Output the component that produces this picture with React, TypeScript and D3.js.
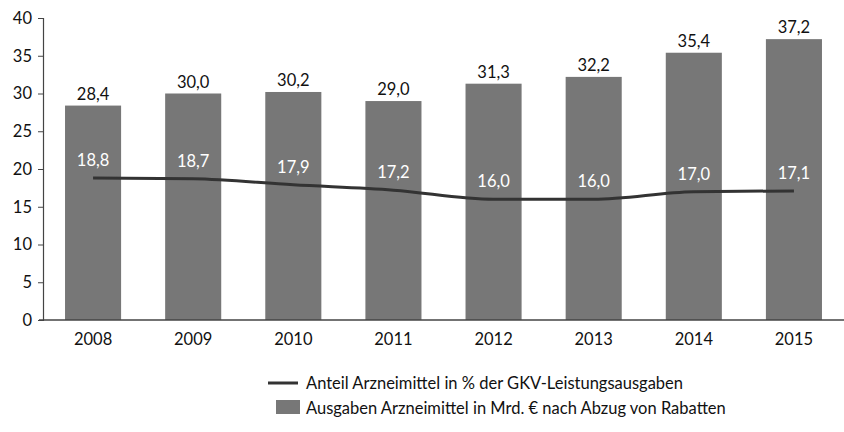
import React from "react";
import * as d3 from "d3";

const years = ["2008", "2009", "2010", "2011", "2012", "2013", "2014", "2015"];
const ausgaben = [28.4, 30.0, 30.2, 29.0, 31.3, 32.2, 35.4, 37.2];
const anteil = [18.8, 18.7, 17.9, 17.2, 16.0, 16.0, 17.0, 17.1];
const yTicks = [0, 5, 10, 15, 20, 25, 30, 35, 40];
const legendLine = "Anteil Arzneimittel in % der GKV-Leistungsausgaben";
const legendBar = "Ausgaben Arzneimittel in Mrd. € nach Abzug von Rabatten";

const fmt = (v: number) => v.toFixed(1).replace(".", ",");

const App = () => {
  const svgRef = React.useRef<SVGSVGElement>(null);
  const width = 844;
  const height = 432;
  const margin = { left: 43, right: 0, top: 18, bottom: 112 };

  React.useEffect(() => {
    const w = width - margin.left - margin.right;
    const h = height - margin.top - margin.bottom;
    const font = "Lato, 'Open Sans', sans-serif";
    const fs = 16.5;

    const x = d3.scaleBand().domain(years).range([0, w]).paddingInner(0.44).paddingOuter(0.22);
    const y = d3.scaleLinear().domain([0, 40]).range([h, 0]);

    const svgEl = d3.select(svgRef.current);
    svgEl.selectAll("*").remove();
    const svg = svgEl.append("g").attr("transform", `translate(${margin.left},${margin.top})`);

    // bars
    svg.selectAll(".bar")
      .data(years)
      .enter().append("rect")
      .attr("x", d => x(d)!)
      .attr("y", (d, i) => y(ausgaben[i]))
      .attr("width", x.bandwidth())
      .attr("height", (d, i) => h - y(ausgaben[i]))
      .attr("fill", "#777777");

    // bar labels
    svg.selectAll(".blabel")
      .data(years)
      .enter().append("text")
      .attr("x", d => x(d)! + x.bandwidth() / 2)
      .attr("y", (d, i) => y(ausgaben[i]) - 6)
      .attr("text-anchor", "middle")
      .attr("font-family", font)
      .attr("font-size", fs)
      .attr("fill", "#111")
      .text((d, i) => fmt(ausgaben[i]));

    // line
    const line = d3.line<number>()
      .x((d, i) => x(years[i])! + x.bandwidth() / 2)
      .y(d => y(d))
      .curve(d3.curveMonotoneX);
    svg.append("path")
      .datum(anteil)
      .attr("d", line)
      .attr("fill", "none")
      .attr("stroke", "#333")
      .attr("stroke-width", 3);

    svg.selectAll(".llabel")
      .data(years)
      .enter().append("text")
      .attr("x", d => x(d)! + x.bandwidth() / 2)
      .attr("y", (d, i) => y(anteil[i]) - 12)
      .attr("text-anchor", "middle")
      .attr("font-family", font)
      .attr("font-size", fs)
      .attr("fill", "#fff")
      .text((d, i) => fmt(anteil[i]));

    // y axis
    const yAxis = d3.axisLeft(y).tickValues(yTicks).tickSize(5).tickPadding(6);
    const yg = svg.append("g").call(yAxis);
    yg.select(".domain").attr("stroke", "#444").attr("stroke-width", 1.2);
    yg.selectAll("line").attr("stroke", "#444");
    yg.selectAll("text").attr("font-family", font).attr("font-size", fs).attr("fill", "#111");

    // x axis
    const xAxis = d3.axisBottom(x).tickSize(0).tickPadding(13);
    const xg = svg.append("g").attr("transform", `translate(0,${h})`).call(xAxis);
    xg.select(".domain").attr("stroke", "#444").attr("stroke-width", 1.5).attr("d", `M-4,0H${w}`);
    xg.selectAll("text").attr("font-family", font).attr("font-size", fs).attr("fill", "#111");

    // legend
    const lg = svgEl.append("g");
    lg.append("line").attr("x1", 268).attr("x2", 298).attr("y1", 383).attr("y2", 383)
      .attr("stroke", "#333").attr("stroke-width", 3);
    lg.append("text").attr("x", 306).attr("y", 389).attr("font-family", font).attr("font-size", fs)
      .attr("fill", "#111").text(legendLine);
    lg.append("rect").attr("x", 276).attr("y", 400).attr("width", 24).attr("height", 14).attr("fill", "#777777");
    lg.append("text").attr("x", 306).attr("y", 414).attr("font-family", font).attr("font-size", fs)
      .attr("fill", "#111").text(legendBar);
  }, []);

  return <svg ref={svgRef} width={width} height={height} style={{ position: "absolute", left: 0, top: 0 }} />;
};

export default App;
